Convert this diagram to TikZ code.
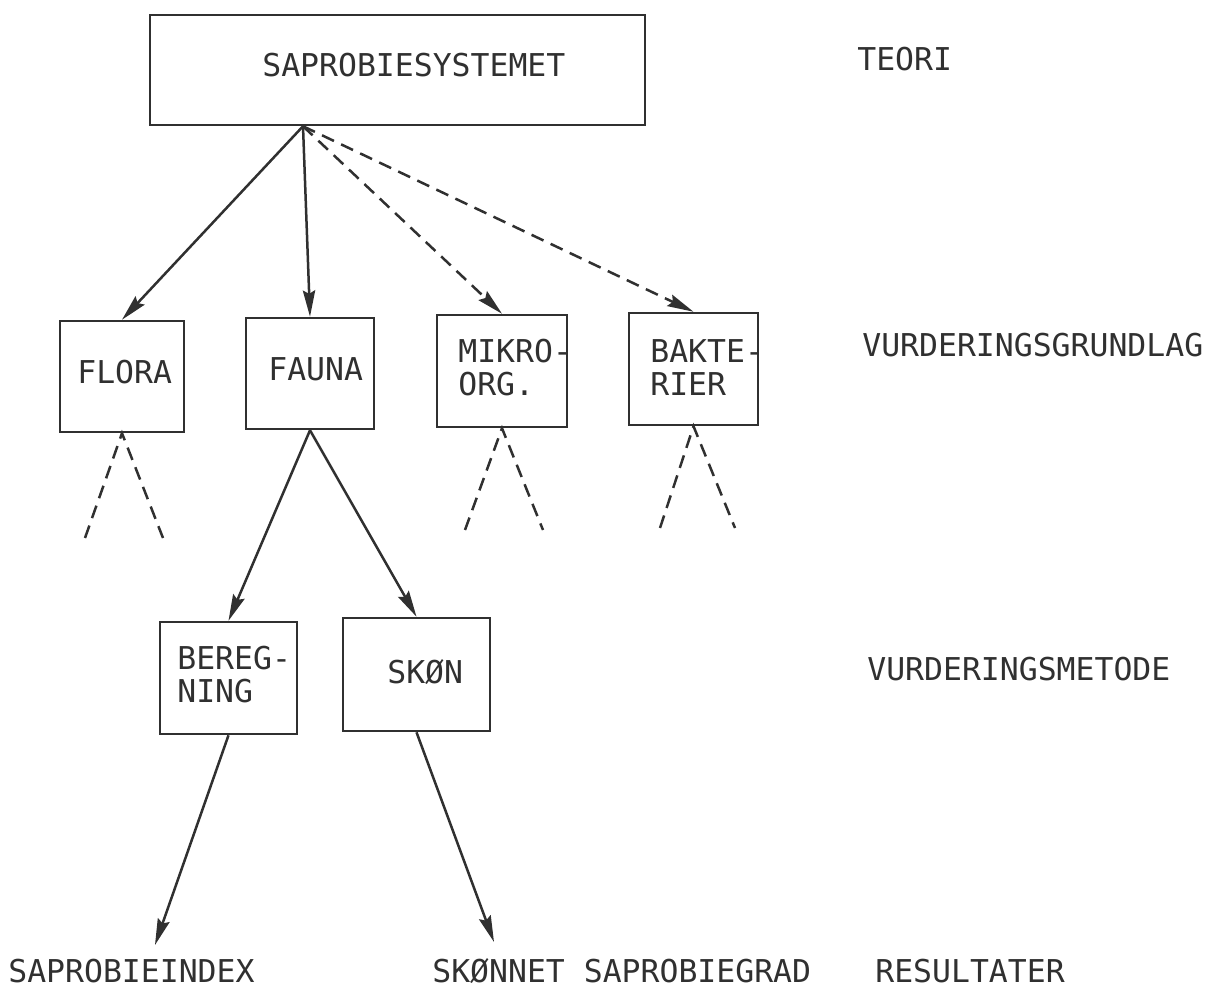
\documentclass[tikz,border=0pt]{standalone}
\usepackage{fontspec}
\newfontfamily\typewriter{DejaVu Sans Mono}
\usepackage{xcolor}
\definecolor{ink}{HTML}{303030}
\usetikzlibrary{arrows.meta,calc,positioning}

\begin{document}
\begin{tikzpicture}[
                        box/.style={draw=ink, line width=0.05cm, rectangle, inner sep=0pt},
                        txt/.style={anchor=west, inner sep=0pt, text=ink, align=left},
                        conn/.style={draw=ink, line width=0.05cm, -{Stealth[length=15pt,width=7pt,inset=2pt]}},
                        dashconn/.style={conn, dash pattern=on 7.5pt off 4.5pt},
                        leg/.style={draw=ink, line width=0.05cm, dash pattern=on 7.5pt off 4.5pt}
                        ]
                        \useasboundingbox (0,0) rectangle (24.340000,19.940000);
                        {\typewriter\fontsize{17.9pt}{18.5pt}\selectfont

                        % Drawing box SAPROBIESYSTEMET
                        \node [box, minimum width=9.900000cm, minimum height=2.200000cm] (sapro) at (7.950000,18.540000) {};%
                        \node [txt] (saprotext) at (5.240000,18.640000) {SAPROBIESYSTEMET};%

                        % Drawing box FLORA
                        \node [box, minimum width=2.480000cm, minimum height=2.220000cm] (flora) at (2.440000,12.410000) {};%
                        \node [txt] (floratext) at (1.540000,12.500000) {FLORA};%

                        % Drawing box FAUNA
                        \node [box, minimum width=2.560000cm, minimum height=2.220000cm] (fauna) at (6.200000,12.470000) {};%
                        \node [txt] (faunatext) at (5.360000,12.560000) {FAUNA};%

                        % Drawing box MIKRO-ORG.
                        \node [box, minimum width=2.600000cm, minimum height=2.240000cm] (mikro) at (10.040000,12.520000) {};%
                        \node [txt] (mikrotext) at (9.160000,12.590000) {MIKRO-\\ORG.};%

                        % Drawing box BAKTERIER
                        \node [box, minimum width=2.580000cm, minimum height=2.240000cm] (bakt) at (13.870000,12.560000) {};%
                        \node [txt] (bakttext) at (13.000000,12.590000) {BAKTE-\\RIER};%

                        % Drawing box BEREGNING
                        \node [box, minimum width=2.740000cm, minimum height=2.240000cm] (bereg) at (4.570000,6.380000) {};%
                        \node [txt] (beregtext) at (3.540000,6.450000) {BEREG-\\NING};%

                        % Drawing box SKØN
                        \node [box, minimum width=2.940000cm, minimum height=2.260000cm] (skon) at (8.330000,6.450000) {};%
                        \node [txt] (skontext) at (7.740000,6.500000) {SKØN};%

                        % Marking level names
                        \node [txt] (teori) at (17.140000,18.760000) {TEORI};%
                        \node [txt] (grundlag) at (17.240000,13.040000) {VURDERINGSGRUNDLAG};%
                        \node [txt] (metode) at (17.340000,6.560000) {VURDERINGSMETODE};%
                        \node [txt] (result) at (17.500000,0.520000) {RESULTATER};%

                        % Marking results
                        \node [txt] (index) at (0.160000,0.520000) {SAPROBIEINDEX};%
                        \node [txt] (grad) at (8.640000,0.520000) {SKØNNET SAPROBIEGRAD};%

                        % Drawing arrows from the theory
                        \draw [conn] ([xshift=-1.890000cm]sapro.south) -- (flora.north);%
                        \draw [conn] ([xshift=-1.890000cm]sapro.south) -- (fauna.north);%
                        \draw [dashconn] ([xshift=-1.890000cm]sapro.south) -- (mikro.north);%
                        \draw [dashconn] ([xshift=-1.890000cm]sapro.south) -- (bakt.north);%

                        % Drawing dashed legs
                        \coordinate (floraleft) at (1.700000,9.180000);%
                        \coordinate (floraright) at (3.260000,9.180000);%
                        \coordinate (mikroleft) at (9.300000,9.340000);%
                        \coordinate (mikroright) at (10.860000,9.340000);%
                        \coordinate (baktleft) at (13.200000,9.380000);%
                        \coordinate (baktright) at (14.700000,9.380000);%
                        \draw [leg] (floraleft) -- (flora.south) -- (floraright);%
                        \draw [leg] (mikroleft) -- (mikro.south) -- (mikroright);%
                        \draw [leg] (baktleft) -- (bakt.south) -- (baktright);%

                        % Drawing arrows to the methods
                        \draw [conn] (fauna.south) -- (bereg.north);%
                        \draw [conn] (fauna.south) -- (skon.north);%

                        % Drawing arrows to the results
                        \coordinate (indextip) at (3.100000,1.040000);%
                        \coordinate (gradtip) at (9.880000,1.100000);%
                        \draw [conn] (bereg.south) -- (indextip);%
                        \draw [conn] (skon.south) -- (gradtip);%
                        }
\end{tikzpicture}
\end{document}
